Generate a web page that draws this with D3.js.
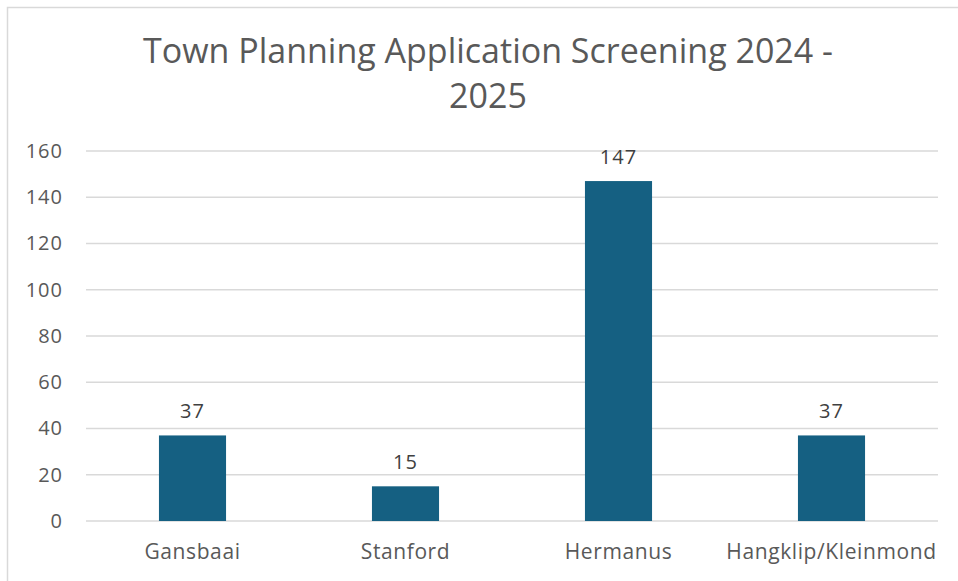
<!DOCTYPE html>
<html>
<head>
<meta charset="utf-8">
<script src="https://cdn.jsdelivr.net/npm/d3@7"></script>
<style>
  body { margin: 0; background: #fff; }
  text { font-family: "Open Sans", "Noto Sans", sans-serif; }
</style>
</head>
<body>
<svg id="chart" width="958" height="581"></svg>
<script>
const categories = ["Gansbaai", "Stanford", "Hermanus", "Hangklip/Kleinmond"];
const values = [37, 15, 147, 37];
const yTicks = [0, 20, 40, 60, 80, 100, 120, 140, 160];
const titleLines = ["Town Planning Application Screening 2024 -", "2025"];

const svg = d3.select("#chart");

// chart border
svg.append("rect")
    .attr("x", 7.5).attr("y", 7.5)
    .attr("width", 960).attr("height", 590)
    .attr("fill", "none")
    .attr("stroke", "#d9d9d9")
    .attr("stroke-width", 1.5);

const plotLeft = 86, plotRight = 938, plotTop = 151, plotBottom = 521;

const x = d3.scaleBand()
    .domain(categories)
    .range([plotLeft, plotRight])
    .padding(0);

const y = d3.scaleLinear()
    .domain([0, 160])
    .range([plotBottom, plotTop]);

const barW = x.bandwidth() * 0.315;

// gridlines
svg.append("g")
    .selectAll("line")
    .data(yTicks)
    .join("line")
    .attr("x1", plotLeft).attr("x2", plotRight)
    .attr("y1", d => y(d)).attr("y2", d => y(d))
    .attr("stroke", "#d9d9d9")
    .attr("stroke-width", 1.5);

// y axis labels
const yAxis = svg.append("g")
    .attr("transform", "translate(" + (plotLeft - 23) + ",0)")
    .call(d3.axisLeft(y).tickValues(yTicks).tickSize(0).tickPadding(0));
yAxis.select(".domain").remove();
yAxis.selectAll("text")
    .attr("fill", "#595959")
    .style("font-size", "20px")
    .style("letter-spacing", "1px")
    .style("font-family", "'Open Sans', sans-serif");

// x axis labels
const xAxis = svg.append("g")
    .attr("transform", "translate(0,544)")
    .call(d3.axisBottom(x).tickSize(0).tickPadding(0));
xAxis.select(".domain").remove();
xAxis.selectAll("text")
    .attr("fill", "#595959")
    .style("font-size", "21px")
    .style("letter-spacing", "0.6px")
    .style("font-family", "'Open Sans', sans-serif");

// bars
svg.append("g")
    .selectAll("rect")
    .data(values)
    .join("rect")
    .attr("x", (d, i) => x(categories[i]) + x.bandwidth() / 2 - barW / 2)
    .attr("y", d => y(d))
    .attr("width", barW)
    .attr("height", d => y(0) - y(d))
    .attr("fill", "#156082");

// data labels
svg.append("g")
    .selectAll("text")
    .data(values)
    .join("text")
    .attr("x", (d, i) => x(categories[i]) + x.bandwidth() / 2)
    .attr("y", d => y(d) - 17)
    .attr("text-anchor", "middle")
    .attr("fill", "#404040")
    .style("font-size", "20px")
    .style("letter-spacing", "1px")
    .text(d => d);

// title
svg.append("g")
    .selectAll("text")
    .data(titleLines)
    .join("text")
    .attr("x", 488)
    .attr("y", (d, i) => 63 + i * 45)
    .attr("text-anchor", "middle")
    .attr("fill", "#595959")
    .style("font-size", "34px")
    .text(d => d);
</script>
</body>
</html>
